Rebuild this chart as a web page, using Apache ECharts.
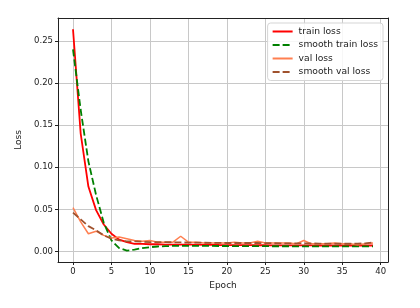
<!DOCTYPE html>
<html><head><meta charset="utf-8">
<script src="https://cdn.jsdelivr.net/npm/echarts@6/dist/echarts.min.js"></script>
<style>html,body{margin:0;padding:0;background:#fff}#c{width:420px;height:308px}</style>
</head><body><div id="c"></div>
<script>
const epochs = Array.from({length: 40}, (_, i) => i);
const trainLoss = [0.264, 0.140, 0.077, 0.049, 0.032, 0.021, 0.014, 0.011, 0.009, 0.009,
  0.0085, 0.0085, 0.008, 0.008, 0.008, 0.008, 0.008, 0.0078, 0.0078, 0.0076,
  0.0075, 0.0075, 0.0074, 0.0074, 0.0073, 0.0073, 0.0072, 0.0072, 0.0072, 0.0071,
  0.0071, 0.0071, 0.007, 0.007, 0.007, 0.007, 0.007, 0.007, 0.007, 0.007];
const smoothTrainLoss = [0.240, 0.168, 0.107, 0.067, 0.034, 0.013, 0.004, 0.001, 0.002, 0.004,
  0.005, 0.0058, 0.0062, 0.0065, 0.0066, 0.0066, 0.0066, 0.0065, 0.0065, 0.0064,
  0.0064, 0.0063, 0.0063, 0.0062, 0.0062, 0.0062, 0.0061, 0.0061, 0.0061, 0.006,
  0.006, 0.006, 0.006, 0.006, 0.006, 0.006, 0.006, 0.006, 0.006, 0.006];
const valLoss = [0.052, 0.035, 0.021, 0.024, 0.019, 0.016, 0.017, 0.015, 0.013, 0.012,
  0.013, 0.011, 0.011, 0.011, 0.018, 0.011, 0.011, 0.010, 0.010, 0.010,
  0.010, 0.011, 0.010, 0.010, 0.012, 0.010, 0.010, 0.010, 0.010, 0.009,
  0.013, 0.009, 0.009, 0.009, 0.010, 0.009, 0.009, 0.008, 0.009, 0.010];
const smoothValLoss = [0.046, 0.038, 0.030, 0.025, 0.019, 0.015, 0.013, 0.012, 0.012, 0.0115,
  0.011, 0.011, 0.011, 0.0108, 0.0106, 0.0105, 0.0104, 0.0103, 0.0102, 0.0101,
  0.010, 0.010, 0.010, 0.010, 0.010, 0.0098, 0.0097, 0.0096, 0.0095, 0.0095,
  0.0095, 0.0094, 0.0093, 0.0092, 0.0092, 0.0091, 0.0091, 0.0092, 0.0096, 0.0105];
const xTicks = [0, 5, 10, 15, 20, 25, 30, 35, 40];
const yTicks = [0, 0.05, 0.10, 0.15, 0.20, 0.25];
const seriesNames = ['train loss', 'smooth train loss', 'val loss', 'smooth val loss'];

const pair = arr => epochs.map((e, i) => [e, arr[i]]);
const font = 'DejaVu Sans';
const chart = echarts.init(document.getElementById('c'), null, {renderer: 'canvas'});
const frame = {show: true, lineStyle: {color: '#222', width: 1}};
const hiddenAxis = (type, pos, min, max) => ({
  type: 'value', position: pos, min, max,
  axisLine: Object.assign({onZero: false}, frame),
  axisTick: {show: false}, axisLabel: {show: false}, splitLine: {show: false}
});
const mkSeries = (i, data, color, width, dashed, z) => ({
  name: seriesNames[i], type: 'line', data: pair(data), symbol: 'none', z,
  lineStyle: {color, width, type: dashed ? [7, 3] : 'solid'},
  itemStyle: {color, opacity: 0}
});
chart.setOption({
  animation: false,
  backgroundColor: '#fff',
  grid: {left: 58, right: 32, top: 18, bottom: 46, outerBoundsMode: 'none', containLabel: false},
  legend: {
    orient: 'vertical', right: 37, top: 23,
    data: seriesNames,
    itemWidth: 20, itemHeight: 9, itemGap: 4.5,
    padding: [4, 5, 4, 4],
    borderColor: '#d5d5d5', borderWidth: 1, borderRadius: 3,
    backgroundColor: 'rgba(255,255,255,0.85)',
    itemStyle: {opacity: 0},
    textStyle: {fontFamily: font, fontSize: 9.2, color: '#222', padding: [0, 0, 0, 1]}
  },
  xAxis: [{
    type: 'value', min: -1.95, max: 40.95,
    name: 'Epoch', nameLocation: 'middle', nameGap: 18,
    nameTextStyle: {fontFamily: font, fontSize: 9, color: '#222'},
    axisLine: Object.assign({onZero: false}, frame),
    axisTick: {show: true, customValues: xTicks, length: 3, lineStyle: {color: '#222'}},
    axisLabel: {customValues: xTicks, fontFamily: font, fontSize: 8.5, color: '#222', margin: 5},
    splitLine: {show: true, lineStyle: {color: '#c8c8c8', width: 1}}
  }, hiddenAxis('value', 'top', -1.95, 40.95)],
  yAxis: [{
    type: 'value', min: -0.0126, max: 0.2773,
    name: 'Loss', nameLocation: 'middle', nameGap: 31,
    nameTextStyle: {fontFamily: font, fontSize: 9, color: '#222'},
    axisLine: Object.assign({onZero: false}, frame),
    axisTick: {show: true, customValues: yTicks, length: 3, lineStyle: {color: '#222'}},
    axisLabel: {customValues: yTicks, fontFamily: font, fontSize: 8.5, color: '#222', margin: 5,
      formatter: v => v.toFixed(2)},
    splitLine: {show: true, lineStyle: {color: '#c8c8c8', width: 1}}
  }, hiddenAxis('value', 'right', -0.0126, 0.2773)],
  series: [
    mkSeries(0, trainLoss, '#ff0000', 1.8, false, 3),
    mkSeries(1, smoothTrainLoss, '#008000', 1.8, true, 4),
    mkSeries(2, valLoss, '#ff7f50', 1.5, false, 5),
    mkSeries(3, smoothValLoss, '#a0522d', 1.8, true, 6)
  ]
});
</script></body></html>
